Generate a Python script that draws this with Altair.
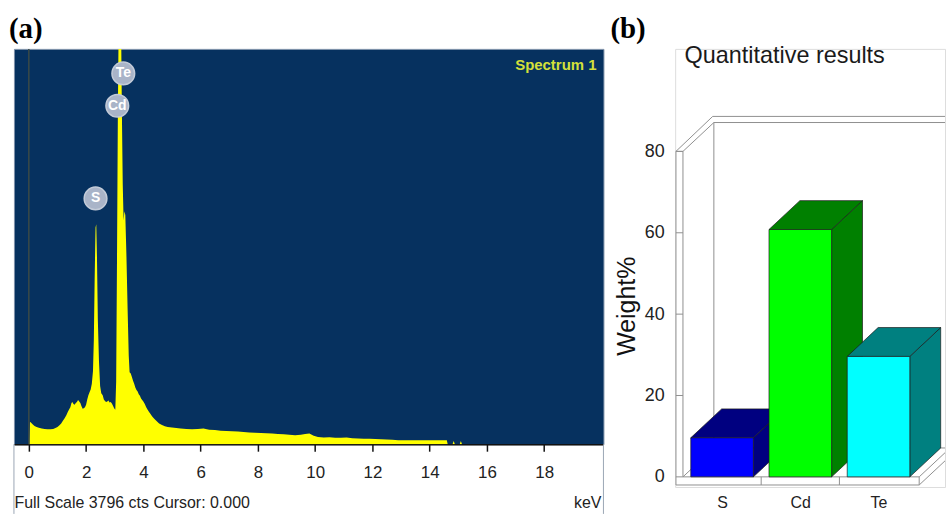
import json
import altair as alt
import pandas as pd

# ---------------- data: panel (a) EDS spectrum ----------------
KEV = [0.02, 0.04, 0.08, 0.14, 0.2, 0.27, 0.35, 0.45, 0.55, 0.65, 0.75, 0.85, 0.93, 1.0,
       1.07, 1.13, 1.19, 1.25, 1.31, 1.36, 1.41, 1.45, 1.49, 1.52, 1.56, 1.6, 1.64, 1.68,
       1.72, 1.76, 1.8, 1.84, 1.88, 1.92, 1.96, 2.0, 2.04, 2.08, 2.12, 2.16, 2.2, 2.24,
       2.27, 2.3, 2.33, 2.355, 2.38, 2.41, 2.45, 2.49, 2.53, 2.58, 2.62, 2.66, 2.7, 2.74,
       2.78, 2.82, 2.86, 2.9, 2.94, 2.98, 3.02, 3.05, 3.08, 3.11, 3.14, 3.18, 3.22, 3.25,
       3.28, 3.31, 3.34, 3.37, 3.41, 3.45, 3.49, 3.52, 3.56, 3.6, 3.64, 3.68, 3.72, 3.76,
       3.8, 3.84, 3.88, 3.92, 3.96, 4.0, 4.05, 4.1, 4.15, 4.2, 4.25, 4.31, 4.38, 4.46,
       4.55, 4.65, 4.75, 4.85, 5.0, 5.15, 5.3, 5.5, 5.7, 5.9, 6.1, 6.3, 6.5, 6.7, 6.9,
       7.1, 7.3, 7.5, 7.7, 7.9, 8.1, 8.3, 8.5, 8.7, 8.9, 9.1, 9.3, 9.5, 9.65, 9.8, 9.95,
       10.1, 10.3, 10.5, 10.7, 10.9, 11.1, 11.3, 11.5, 11.7, 11.9, 12.1, 12.3, 12.5, 12.7,
       12.9, 13.2, 13.6, 14.0, 14.3, 14.6, 14.63, 14.8, 14.84, 14.88, 15.05, 15.09, 15.13,
       20.0]
COUNTS = [0, 215, 205, 190, 175, 165, 158, 150, 146, 143, 143, 147, 155, 165,
          182, 200, 225, 250, 278, 310, 335, 355, 395, 405, 385, 380, 395, 405,
          425, 410, 395, 365, 340, 345, 355, 380, 430, 470, 500, 525, 580, 700,
          1000, 1600, 2080, 2113, 1800, 1200, 800, 560, 490, 470, 430, 415, 405, 410,
          420, 400, 405, 390, 370, 345, 330, 600, 1800, 3200, 4100, 4600, 4100, 3200,
          2500, 2150, 2237, 2200, 1800, 1300, 850, 690, 680, 645, 610, 580, 545, 520,
          505, 480, 465, 440, 425, 410, 385, 355, 330, 310, 290, 265, 245, 222,
          200, 185, 172, 165, 160, 155, 150, 146, 143, 147, 150, 140, 136, 130, 128,
          124, 122, 118, 112, 110, 108, 106, 102, 98, 95, 90, 87, 92, 98, 102, 82,
          70, 64, 66, 62, 63, 64, 58, 55, 53, 52, 50, 47, 45, 42,
          38, 38, 38, 38, 38, 38, 0, 0, 30, 0, 0, 30, 0,
          0]
FULL_SCALE = 3796
KEV_RANGE = [-0.52, 20.07]
TICK_VALUES = [i * 0.5 for i in range(40)]
PEAK_LABELS = ["S", "Cd", "Te"]
PEAK_KEV = [2.33, 3.09, 3.30]
PEAK_CNT = [2360, 3250, 3560]

# ---------------- data: panel (b) quantitative results ----------------
ELEMENTS = ["S", "Cd", "Te"]
WEIGHT = [9.6, 60.8, 29.6]
FRONT_COLORS = ["#0000FF", "#00FF00", "#00FFFF"]
SHADE_COLORS = ["#000080", "#008000", "#008080"]
Y_TICKS = [0, 20, 40, 60, 80]

SANS = "Liberation Sans, Arial, sans-serif"
SERIF = "Liberation Serif, Times New Roman, serif"
BG = "#06315F"
YELLOW = "#FFFF00"

# ================= panel (a) =================
A_W, A_H = 592, 397
xs = alt.Scale(domain=KEV_RANGE, nice=False, zero=False)
ys = alt.Scale(domain=[0, FULL_SCALE], nice=False, zero=False)

x_axis = alt.Axis(
    values=TICK_VALUES,
    labelExpr="datum.value % 2 === 0 ? format(datum.value, 'd') : ''",
    tickSize={"condition": {"test": "datum.value % 1 === 0", "value": 7}, "value": 4},
    tickColor="#111", tickWidth=1.5, domainColor="#111", domainWidth=1.5,
    labelFont=SANS, labelFontSize=17, labelColor="#222", labelPadding=13,
    labelFlush=False, grid=False,
    title="Full Scale 3796 cts Cursor: 0.000", titleFont=SANS, titleFontSize=16,
    titleFontWeight="normal", titleColor="#222", titleAnchor="start", titleAlign="left",
    titleBaseline="alphabetic", titleX=0, titleY=64,
)

spec_df = pd.DataFrame({"keV": KEV, "counts": COUNTS})
area = alt.Chart(spec_df).mark_area(color=YELLOW, clip=True, interpolate="linear").encode(
    x=alt.X("keV:Q", scale=xs, axis=x_axis),
    y=alt.Y("counts:Q", scale=ys, axis=None),
)
zero_line = alt.Chart(pd.DataFrame({"keV": [0.0]})).mark_rule(
    color="#3b4a46", strokeWidth=1.5).encode(x=alt.X("keV:Q", scale=xs))

peaks_df = pd.DataFrame({"el": PEAK_LABELS, "keV": PEAK_KEV, "cnt": PEAK_CNT})
peak_pts = alt.Chart(peaks_df).mark_point(
    filled=True, size=520, color="#A9B4C8", opacity=1, stroke="#C3CBD8", strokeWidth=1.5
).encode(x=alt.X("keV:Q", scale=xs), y=alt.Y("cnt:Q", scale=ys))
peak_txt = alt.Chart(peaks_df).mark_text(
    color="white", font=SANS, fontSize=14, fontWeight="bold"
).encode(x=alt.X("keV:Q", scale=xs), y=alt.Y("cnt:Q", scale=ys), text="el:N")

spec_label = alt.Chart(pd.DataFrame({"t": ["Spectrum 1"]})).mark_text(
    align="right", baseline="alphabetic", font=SANS, fontSize=15, fontWeight="bold", color="#D4E03A"
).encode(x=alt.value(585), y=alt.value(21), text="t:N")
kev_label = alt.Chart(pd.DataFrame({"t": ["keV"]})).mark_text(
    align="right", baseline="alphabetic", font=SANS, fontSize=16, color="#222"
).encode(x=alt.value(590), y=alt.value(A_H + 64), text="t:N")
a_label = alt.Chart(pd.DataFrame({"t": ["(a)"]})).mark_text(
    align="left", baseline="alphabetic", font=SERIF, fontSize=29, fontWeight="bold", color="black"
).encode(x=alt.value(-5), y=alt.value(-11), text="t:N")
borders = alt.Chart(pd.DataFrame({"side": [0, A_W]})).mark_rule(
    color="#9aa6b4", strokeWidth=1).encode(
    x=alt.X("side:Q", scale=None), y=alt.value(A_H), y2=alt.value(A_H + 70))

panel_a = alt.layer(area, zero_line, peak_pts, peak_txt, spec_label, kev_label, a_label, borders).properties(
    width=A_W, height=A_H,
    view=alt.ViewBackground(fill=BG, stroke="#7d90a8", strokeWidth=1),
)

# ================= panel (b) =================
B_W, B_H = 271, 440
XB = [-0.6, 2.85]
YB = [-2.5, 105.2]
HALF, DX, DY = 0.4, 0.395, 7.1
WO, WI, FY, FE, TOP = -0.59, -0.5, -2.0, 2.52, 80
bx = alt.Scale(domain=XB, nice=False, zero=False)
by = alt.Scale(domain=YB, nice=False, zero=False)

idx = list(range(len(ELEMENTS)))
front_df = pd.DataFrame({
    "element": ELEMENTS, "x0": [i - HALF for i in idx], "x1": [i + HALF for i in idx],
    "y0": [0.0] * len(idx), "w": WEIGHT, "fill": FRONT_COLORS})
top_rows, side_rows = [], []
for i, el, w, c in zip(idx, ELEMENTS, WEIGHT, SHADE_COLORS):
    top_rows.append({"element": el, "y": w, "xa": i - HALF, "xb": i + HALF, "fill": c})
    top_rows.append({"element": el, "y": w + DY, "xa": i - HALF + DX, "xb": i + HALF + DX, "fill": c})
    side_rows.append({"element": el, "x": i + HALF, "ya": 0.0, "yb": w, "fill": c})
    side_rows.append({"element": el, "x": i + HALF + DX, "ya": DY, "yb": w + DY, "fill": c})
top_df = pd.DataFrame(top_rows)
side_df = pd.DataFrame(side_rows)

segs = [
    (WO, FY, WO, TOP), (WI, 0, WI, TOP), (WO, TOP, WI, TOP),
    (WO, TOP, WO + 0.47, TOP + DY + 1.5), (WI, TOP, WI + DX, TOP + DY),
    (WO + 0.47, TOP + DY + 1.5, 3.0, TOP + DY + 1.5), (WI + DX, TOP + DY, 3.0, TOP + DY),
    (WI + DX, DY, WI + DX, TOP + DY),
    (WO, FY, FE, FY), (WI, 0, FE, 0), (WI + DX, DY, FE + DX, DY), (WI, 0, WI + DX, DY),
    (FE, FY, FE, 0), (FE, 0, FE + DX, DY), (FE, FY, FE + DX, FY + DY),
    (0.5, FY, 0.5, 0), (1.5, FY, 1.5, 0),
] + [(WO, v, WI, v) for v in Y_TICKS]
frame_df = pd.DataFrame(segs, columns=["x", "y", "x2", "y2"])

yb_axis = alt.Axis(values=Y_TICKS, domain=False, ticks=False, grid=False,
                   labelFont=SANS, labelFontSize=18, labelColor="#222", labelPadding=11,
                   title="Weight%", titleFont=SANS, titleFontSize=25, titleFontWeight="normal",
                   titleColor="#111", titleX=-36, titleY=258)
xb_axis = alt.Axis(values=idx, domain=False, ticks=False, grid=False,
                   labelExpr=json.dumps(ELEMENTS) + "[datum.value]",
                   labelFont=SANS, labelFontSize=16, labelColor="#222", labelPadding=8,
                   title=None)

frame = alt.Chart(frame_df).mark_rule(color="#8f8f8f", strokeWidth=1, clip=True).encode(
    x=alt.X("x:Q", scale=bx, axis=xb_axis), y=alt.Y("y:Q", scale=by, axis=yb_axis),
    x2="x2:Q", y2="y2:Q")
sides = alt.Chart(side_df).mark_area(orient="vertical", stroke="#1a1a1a", strokeWidth=0.7).encode(
    x=alt.X("x:Q", scale=bx), y=alt.Y("ya:Q", scale=by), y2="yb:Q",
    color=alt.Color("fill:N", scale=None), detail="element:N")
tops = alt.Chart(top_df).mark_area(orient="horizontal", stroke="#1a1a1a", strokeWidth=0.7).encode(
    y=alt.Y("y:Q", scale=by), x=alt.X("xa:Q", scale=bx), x2="xb:Q",
    color=alt.Color("fill:N", scale=None), detail="element:N")
fronts = alt.Chart(front_df).mark_rect(stroke="#1a1a1a", strokeWidth=0.7).encode(
    x=alt.X("x0:Q", scale=bx), x2="x1:Q", y=alt.Y("y0:Q", scale=by), y2="w:Q",
    color=alt.Color("fill:N", scale=None))
b_label = alt.Chart(pd.DataFrame({"t": ["(b)"]})).mark_text(
    align="left", baseline="alphabetic", font=SERIF, fontSize=29, fontWeight="bold", color="black"
).encode(x=alt.value(-65), y=alt.value(-11), text="t:N")
b_title = alt.Chart(pd.DataFrame({"t": ["Quantitative results"]})).mark_text(
    align="center", baseline="alphabetic", font=SANS, fontSize=23.5, color="#1a1a1a"
).encode(x=alt.value(110), y=alt.value(14), text="t:N")

panel_b = alt.layer(frame, sides, tops, fronts, b_label, b_title).properties(width=B_W, height=B_H)

chart = alt.hconcat(panel_a, panel_b, spacing=5).properties(
    padding={"left": 8, "top": 13, "right": 0, "bottom": 0}
).configure_view(strokeWidth=0).configure(background="white")

chart.save("out.html", embed_options={"renderer": "svg", "actions": False})
